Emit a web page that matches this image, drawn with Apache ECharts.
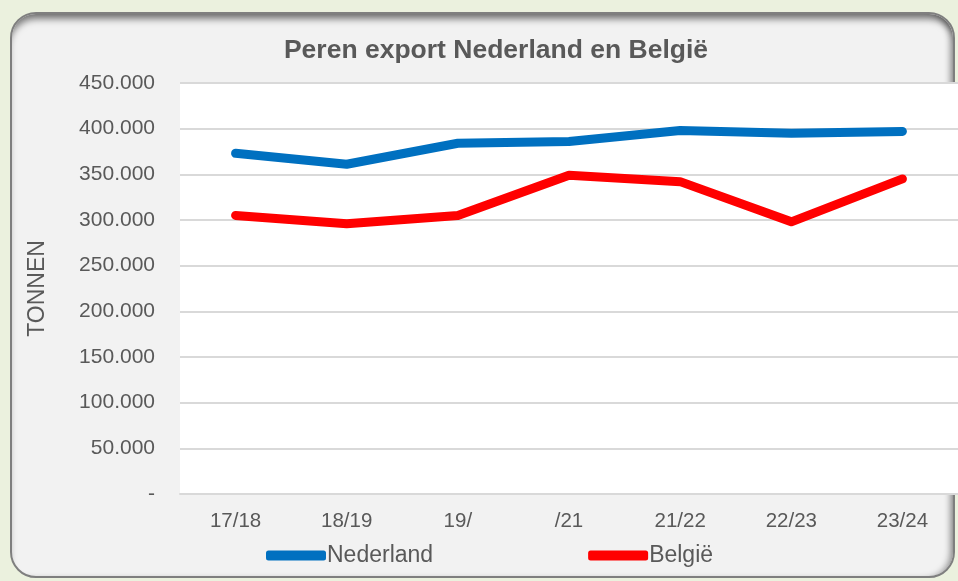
<!DOCTYPE html>
<html>
<head>
<meta charset="utf-8">
<script src="https://cdn.jsdelivr.net/npm/echarts@6/dist/echarts.min.js"></script>
<style>
    html, body { margin: 0; padding: 0; background: #ebf1de; overflow: hidden; }
    .panel {
        position: absolute; left: 10px; top: 12px; width: 941px; height: 562px;
        border: 2px solid #7f7f7f; border-radius: 26px; background: #f2f2f2;
        box-shadow: inset 0 8px 7px -3px rgba(0,0,0,0.5), inset -6px 0 6px -3px rgba(0,0,0,0.35);
    }
    #chart { position: absolute; left: 0; top: 0; width: 958px; height: 581px; }
</style>
</head>
<body>
<div class="panel"></div>
<div id="chart"></div>
<script>
    // seizoenen
    var seasons = ['17/18', '18/19', '19/', '/21', '21/22', '22/23', '23/24'];
    // export in tonnen
    var nederland = [373000, 361000, 384000, 386000, 398000, 395000, 397000];
    var belgie = [305000, 296000, 305000, 349000, 342000, 298000, 345000];
    var yTicks = { min: 0, max: 450000, interval: 50000 };

    var txt = '#595959';
    var font = 'Liberation Sans, Arial, sans-serif';

    function fmt(v) {
        if (v === 0) return '-';
        return String(v).replace(/\B(?=(\d{3})+(?!\d))/g, '.');
    }

    var myChart = echarts.init(document.getElementById('chart'));
    myChart.setOption({
        backgroundColor: 'transparent',
        textStyle: { fontFamily: font },
        title: {
            text: 'Peren export Nederland en België',
            left: 491, top: 32, textAlign: 'center',
            textStyle: { color: txt, fontSize: 26.5, fontWeight: 'bold', fontFamily: font }
        },
        legend: {
            data: ['Nederland', 'België'],
            top: 539, left: 261,
            itemGap: 155,
            itemWidth: 60, itemHeight: 10,
            icon: 'roundRect',
            textStyle: { color: txt, fontSize: 23, fontFamily: font, padding: [0, 0, 0, -4] }
        },
        grid: {
            left: 180, top: 83, width: 781, height: 411,
            show: true, backgroundColor: '#ffffff', borderWidth: 0
        },
        xAxis: {
            type: 'category',
            data: seasons,
            boundaryGap: true,
            axisLine: { show: true, lineStyle: { color: '#d9d9d9', width: 2 } },
            axisTick: { show: false },
            axisLabel: { color: txt, fontSize: 20.5, margin: 17, fontFamily: font }
        },
        yAxis: {
            type: 'value',
            min: yTicks.min, max: yTicks.max, interval: yTicks.interval,
            name: 'TONNEN',
            nameLocation: 'middle',
            nameGap: 131,
            nameTextStyle: { color: txt, fontSize: 23, fontFamily: font },
            axisLine: { show: false },
            axisTick: { show: false },
            splitLine: { lineStyle: { color: '#d9d9d9', width: 2 } },
            axisLabel: { color: txt, fontSize: 21, margin: 25, fontFamily: font, formatter: fmt }
        },
        series: [
            {
                name: 'Nederland', type: 'line', data: nederland,
                symbol: 'none', color: '#0070c0',
                lineStyle: { width: 9, cap: 'round', join: 'round' }
            },
            {
                name: 'België', type: 'line', data: belgie,
                symbol: 'none', color: '#ff0000',
                lineStyle: { width: 9, cap: 'round', join: 'round' }
            }
        ]
    });
</script>
</body>
</html>
